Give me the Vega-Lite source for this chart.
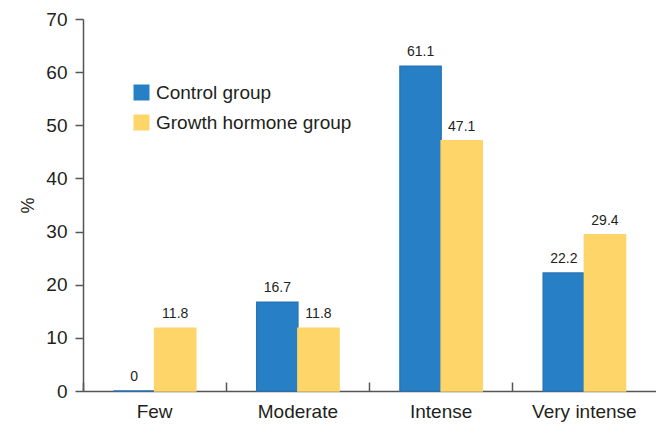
{
  "$schema": "https://vega.github.io/schema/vega-lite/v6.json",
  "width": 573,
  "height": 372,
  "autosize": {"type": "none"},
  "padding": {"left": 83, "top": 19, "right": 0, "bottom": 36},
  "background": "white",
  "config": {
    "view": {"stroke": null},
    "font": "Liberation Sans"
  },
  "data": {
    "values": [
      {"category": "Few", "group": "Control group", "value": 0},
      {"category": "Few", "group": "Growth hormone group", "value": 11.8},
      {"category": "Moderate", "group": "Control group", "value": 16.7},
      {"category": "Moderate", "group": "Growth hormone group", "value": 11.8},
      {"category": "Intense", "group": "Control group", "value": 61.1},
      {"category": "Intense", "group": "Growth hormone group", "value": 47.1},
      {"category": "Very intense", "group": "Control group", "value": 22.2},
      {"category": "Very intense", "group": "Growth hormone group", "value": 29.4}
    ]
  },
  "encoding": {
    "x": {
      "field": "category",
      "type": "nominal",
      "sort": ["Few", "Moderate", "Intense", "Very intense"],
      "scale": {"paddingInner": 0, "paddingOuter": 0},
      "axis": {
        "title": null,
        "labelAngle": 0,
        "labelFontSize": 19,
        "labelColor": "#231f20",
        "labelPadding": 20,
        "bandPosition": 0,
        "tickSize": -9,
        "tickColor": "#555555",
        "tickWidth": 1.5,
        "domainColor": "#555555",
        "domainWidth": 1.5
      }
    },
    "xOffset": {
      "field": "group",
      "type": "nominal",
      "sort": ["Control group", "Growth hormone group"],
      "scale": {"paddingInner": 0, "paddingOuter": 0.74}
    },
    "y": {
      "field": "value",
      "type": "quantitative",
      "scale": {"domain": [0, 70], "nice": false},
      "axis": {
        "title": "%",
        "titleFontSize": 18,
        "titleFontWeight": "normal",
        "titleColor": "#231f20",
        "titlePadding": 8,
        "values": [0, 10, 20, 30, 40, 50, 60, 70],
        "grid": false,
        "labelFontSize": 19,
        "labelColor": "#231f20",
        "labelPadding": 8,
        "tickSize": 8,
        "tickColor": "#555555",
        "tickWidth": 1.5,
        "domainColor": "#555555",
        "domainWidth": 1.5
      }
    }
  },
  "layer": [
    {
      "mark": {"type": "bar", "strokeWidth": 1.5},
      "encoding": {
        "color": {
          "field": "group",
          "type": "nominal",
          "sort": ["Control group", "Growth hormone group"],
          "scale": {"domain": ["Control group", "Growth hormone group"], "range": ["#2780c6", "#fdd568"]},
          "legend": {
            "title": null,
            "orient": "none",
            "legendX": 49,
            "legendY": 64,
            "padding": 0,
            "symbolType": "square",
            "symbolSize": 256,
            "symbolStrokeWidth": 0,
            "labelFontSize": 19,
            "labelColor": "#231f20",
            "labelOffset": 5,
            "labelLimit": 400,
            "rowPadding": 10
          }
        },
        "stroke": {
          "field": "group",
          "type": "nominal",
          "scale": {"domain": ["Control group", "Growth hormone group"], "range": ["#2775b8", "#fdd568"]},
          "legend": null
        }
      }
    },
    {
      "mark": {"type": "text", "baseline": "alphabetic", "dy": -10, "fontSize": 14, "color": "#231f20"},
      "encoding": {
        "text": {"field": "value", "type": "quantitative", "format": ".1~f"}
      }
    }
  ]
}
